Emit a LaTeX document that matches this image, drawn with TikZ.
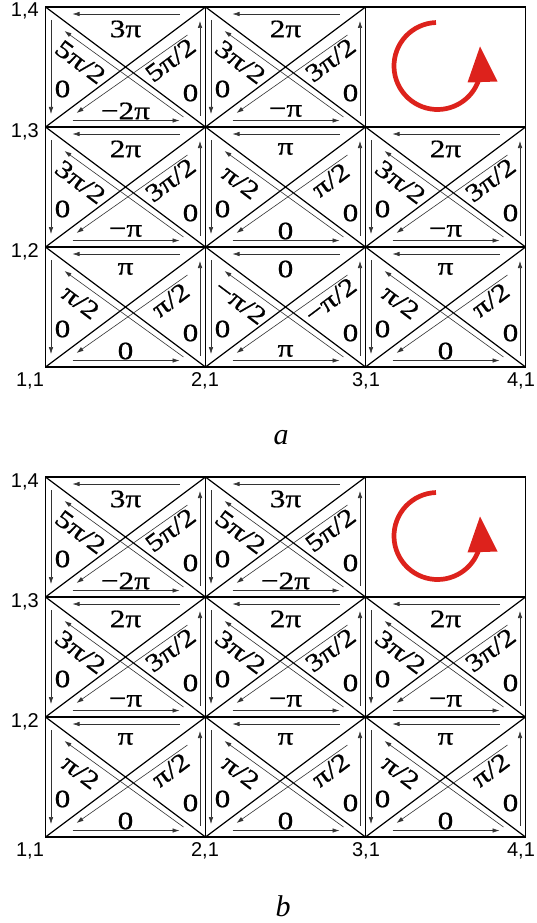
\documentclass[tikz,border=0pt]{standalone}
\usepackage{fontspec}
\setmainfont{Liberation Serif}
\newfontfamily\labfont[FakeStretch=1.25,FakeBold=0.8]{Liberation Serif}
\newfontfamily\crnfont{Liberation Sans}
\usetikzlibrary{arrows.meta}
\definecolor{arrred}{RGB}{221,34,28}
\tikzset{
 frame/.style={line width=1.2pt, black},
 thinarr/.style={line width=0.6pt, black!80, -{Latex[length=7pt,width=4.5pt]}},
 lab/.style={font=\labfont\fontsize{25}{27}\selectfont, inner sep=0pt},
 crn/.style={font=\crnfont\fontsize{20}{22}\selectfont, inner sep=0pt},
 captxt/.style={font=\itshape\fontsize{30}{32}\selectfont, inner sep=0pt},
 redarc/.style={line width=4.7pt, arrred},
}
\newcommand\mycell[7]{%
\begin{scope}[shift={(#2,#3)}]
\draw[frame] (0,0) rectangle (160,120);
\draw[frame] (0,0) -- (160,120) (0,120) -- (160,0);
\draw[thinarr] (134,7) -- (27,7);
\draw[thinarr] (27,113.5) -- (134,113.5);
\draw[thinarr] (5.5,13) -- (5.5,107);
\draw[thinarr] (154.5,109) -- (154.5,14);
\draw[thinarr] (138,110) -- (19,24);
\draw[thinarr] (142,28) -- (31,106);
\node[lab] (#1-t) at (80,22) {#4};
\node[lab,rotate=-36.87] (#1-l) at (35,55) {#5};
\node[lab,rotate=36.87] (#1-r) at (125,53) {#6};
\node[lab] (#1-b) at (80,104) {#7};
\node[lab] (#1-w) at (17,82) {0};
\node[lab] (#1-e) at (145,86) {0};
\end{scope}}
\newcommand\myrot[1]{%
\draw[frame] (365.5,#1) rectangle (525.5,#1+120);
\begin{scope}[shift={(437.5,#1+59)},y=1pt]
\draw[redarc] (92:43.5) arc[start angle=92,end angle=340,radius=43.5];
\fill[arrred] (42.5,19.5) -- (30,-16.5) -- (60,-15.5) -- cycle;
\end{scope}}
\begin{document}
\begin{tikzpicture}[x=1pt,y=-1pt]
\useasboundingbox (0,0) rectangle (537,923);
% ---------- panel a ----------
\mycell{a13}{45.5}{7}{3π}{5π/2}{5π/2}{−2π}
\mycell{a23}{205.5}{7}{2π}{3π/2}{3π/2}{−π}
\myrot{7}
\mycell{a12}{45.5}{127}{2π}{3π/2}{3π/2}{−π}
\mycell{a22}{205.5}{127}{π}{π/2}{π/2}{0}
\mycell{a32}{365.5}{127}{2π}{3π/2}{3π/2}{−π}
\mycell{a11}{45.5}{247}{π}{π/2}{π/2}{0}
\mycell{a21}{205.5}{247}{0}{−π/2}{−π/2}{π}
\mycell{a31}{365.5}{247}{π}{π/2}{π/2}{0}
\node[crn,anchor=base east] (la14) at (39,17) {1,4};
\node[crn,anchor=base east] (la13) at (39,137) {1,3};
\node[crn,anchor=base east] (la12) at (39,257) {1,2};
\node[crn,anchor=base] (la11) at (30,386) {1,1};
\node[crn,anchor=base] (la21) at (205,386) {2,1};
\node[crn,anchor=base] (la31) at (366,386) {3,1};
\node[crn,anchor=base] (la41) at (521,386) {4,1};
\node[captxt] (capa) at (281,438) {a};
% ---------- panel b ----------
\mycell{b13}{45.5}{477}{3π}{5π/2}{5π/2}{−2π}
\mycell{b23}{205.5}{477}{3π}{5π/2}{5π/2}{−2π}
\myrot{477}
\mycell{b12}{45.5}{597}{2π}{3π/2}{3π/2}{−π}
\mycell{b22}{205.5}{597}{2π}{3π/2}{3π/2}{−π}
\mycell{b32}{365.5}{597}{2π}{3π/2}{3π/2}{−π}
\mycell{b11}{45.5}{717}{π}{π/2}{π/2}{0}
\mycell{b21}{205.5}{717}{π}{π/2}{π/2}{0}
\mycell{b31}{365.5}{717}{π}{π/2}{π/2}{0}
\node[crn,anchor=base east] (lb14) at (39,487) {1,4};
\node[crn,anchor=base east] (lb13) at (39,607) {1,3};
\node[crn,anchor=base east] (lb12) at (39,727) {1,2};
\node[crn,anchor=base] (lb11) at (30,856) {1,1};
\node[crn,anchor=base] (lb21) at (205,856) {2,1};
\node[crn,anchor=base] (lb31) at (366,856) {3,1};
\node[crn,anchor=base] (lb41) at (521,856) {4,1};
\node[captxt] (capb) at (283,906) {b};
\end{tikzpicture}
\end{document}
